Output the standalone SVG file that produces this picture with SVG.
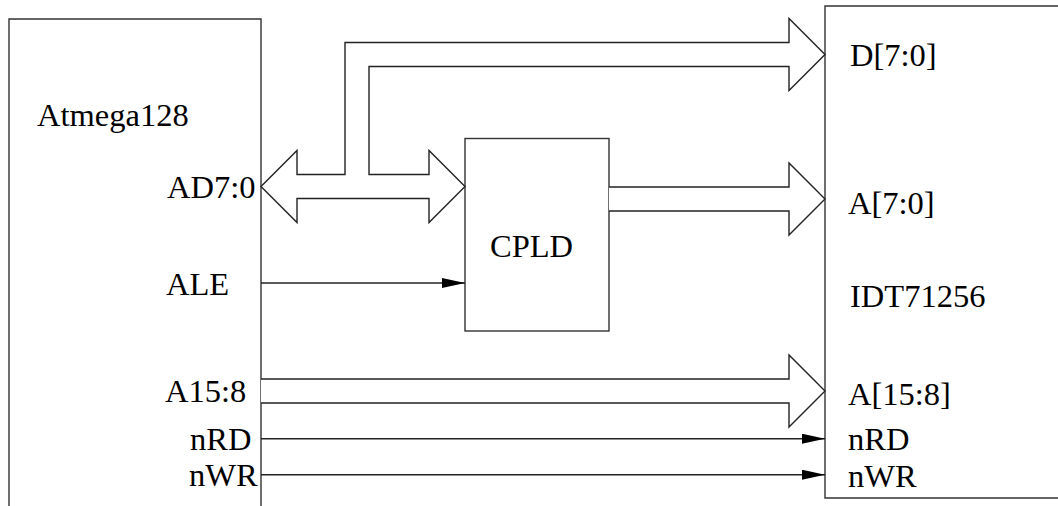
<svg xmlns="http://www.w3.org/2000/svg" width="1058" height="506" viewBox="0 0 1058 506">
<style>
.box{fill:#fff;stroke:#333;stroke-width:1.4}
.bus{fill:#fff;stroke:#222;stroke-width:1.4;stroke-linejoin:miter}
.wire{fill:none;stroke:#222;stroke-width:1.4}
text{font-family:"Liberation Serif","Times New Roman",serif;font-size:32.5px;fill:#000}
</style>
<defs>
<marker id="ah" viewBox="0 0 23 10" refX="23" refY="5" markerWidth="23" markerHeight="10" markerUnits="userSpaceOnUse" orient="auto">
<path d="M0,0 L23,5 L0,10 Z" fill="#000"/>
</marker>
</defs>
<rect width="1058" height="506" fill="#fff"/>
<g id="atmega">
<path class="box" d="M9,520 V19 H261 V520"/>
<text x="37" y="126">Atmega128</text>
<text x="167" y="198">AD7:0</text>
<text x="166" y="295">ALE</text>
<text x="165" y="402">A15:8</text>
<text x="190" y="450">nRD</text>
<text x="189" y="486">nWR</text>
</g>
<g id="idt">
<path class="box" d="M1070,498 H825 V6 H1070"/>
<text x="850" y="66">D[7:0]</text>
<text x="848" y="214">A[7:0]</text>
<text x="850" y="307">IDT71256</text>
<text x="848" y="405">A[15:8]</text>
<text x="848" y="450">nRD</text>
<text x="848" y="487">nWR</text>
</g>
<g id="cpld">
<rect class="box" x="465" y="138.5" width="144" height="192.5"/>
<text x="490" y="257">CPLD</text>
</g>
<g id="connectors">
<polygon class="bus" points="261,186.5 297,150.5 297,174.5 345,174.5 345,42.5 789,42.5 789,18.5 825,54.5 789,90.5 789,66.5 369,66.5 369,174.5 429,174.5 429,150.5 465,186.5 429,222.5 429,198.5 297,198.5 297,222.5"/>
<polyline class="bus" points="609,187 789,187 789,163 825,199 789,235 789,211 609,211"/>
<polyline class="bus" points="261,379 789,379 789,355 825,391 789,427 789,403 261,403"/>
<line class="wire" x1="261" y1="283" x2="465" y2="283" marker-end="url(#ah)"/>
<line class="wire" x1="261" y1="438.7" x2="825" y2="438.7" marker-end="url(#ah)"/>
<line class="wire" x1="261" y1="474.7" x2="825" y2="474.7" marker-end="url(#ah)"/>
</g>
</svg>
